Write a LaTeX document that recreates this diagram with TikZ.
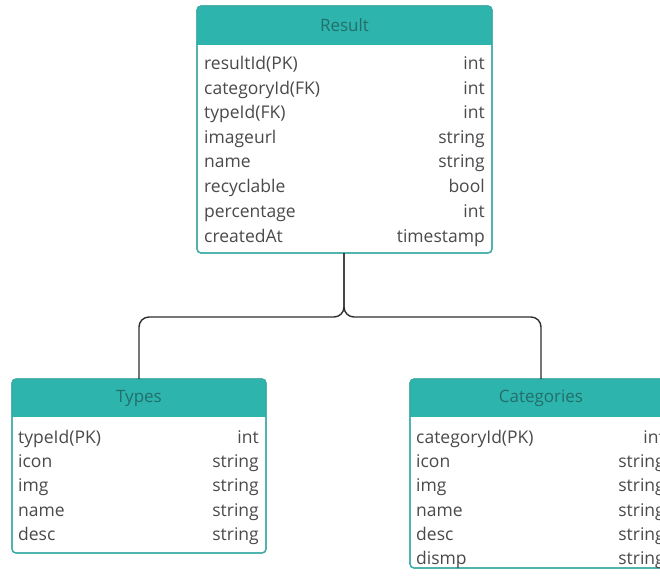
\documentclass[tikz,border=0pt]{standalone}
\usepackage{fontspec}
\setmainfont{Open Sans}
\definecolor{headfill}{HTML}{2DB4AD}
\definecolor{headtext}{HTML}{236F6B}
\definecolor{frame}{HTML}{3AAAA4}
\definecolor{bodytext}{HTML}{4A4A4A}
\definecolor{wire}{HTML}{2E2E2E}
\tikzset{
  x=1pt, y=-1pt,
  tablebody/.style={draw=frame, line width=1.2pt, fill=white, rounded corners=4pt},
  title/.style={font=\fontsize{17}{19}\selectfont, text=headtext, anchor=center, inner sep=0pt},
  field/.style={font=\fontsize{17.5}{20}\selectfont, text=bodytext, anchor=west, inner sep=0pt},
  ftype/.style={font=\fontsize{17.5}{20}\selectfont, text=bodytext, anchor=east, inner sep=0pt},
  link/.style={draw=wire, line width=1.4pt, rounded corners=10pt},
}
% #1 name, #2 left, #3 top, #4 right, #5 header bottom, #6 bottom, #7 title
\newcommand{\erdtable}[7]{%
  \path[tablebody] (#2,#3) rectangle (#4,#6);
  \begin{scope}
    \clip[rounded corners=4pt] (#2,#3) rectangle (#4,#6);
    \fill[headfill] (#2,#3) rectangle (#4,#5);
  \end{scope}
  \draw[frame, line width=1.2pt, rounded corners=4pt] (#2,#3) rectangle (#4,#6);
  \coordinate (#1-n) at ({(#2+#4)/2},#3);
  \coordinate (#1-s) at ({(#2+#4)/2},#6);
  \node[title] (#1-title) at ({(#2+#4)/2},{(#3+#5)/2}) {#7};
}
% #1 node name, #2 left x, #3 right x, #4 y, #5 field, #6 type
\newcommand{\erdrow}[6]{%
  \node[field] (#1) at (#2,#4) {\strut #5};
  \node[ftype] (#1-t) at (#3,#4) {\strut #6};
}
\begin{document}
\begin{tikzpicture}
\useasboundingbox (0,0) rectangle (660,576);
\clip (0,0) rectangle (660,576);

% Result table
\erdtable{res}{197}{6}{492}{45}{253}{Result}
\erdrow{r1}{204}{485}{65}{resultId(PK)}{int}
\erdrow{r2}{204}{485}{90}{categoryId(FK)}{int}
\erdrow{r3}{204}{485}{114}{typeId(FK)}{int}
\erdrow{r4}{204}{485}{139}{imageurl}{string}
\erdrow{r5}{204}{485}{163}{name}{string}
\erdrow{r6}{204}{485}{188}{recyclable}{bool}
\erdrow{r7}{204}{485}{213}{percentage}{int}
\erdrow{r8}{204}{485}{238}{createdAt}{timestamp}

% Types table
\erdtable{typ}{12}{379}{266}{417}{553}{Types}
\erdrow{t1}{18}{259}{439}{typeId(PK)}{int}
\erdrow{t2}{18}{259}{463}{icon}{string}
\erdrow{t3}{18}{259}{487}{img}{string}
\erdrow{t4}{18}{259}{512}{name}{string}
\erdrow{t5}{18}{259}{536}{desc}{string}

% Categories table
\erdtable{cat}{410}{379}{672}{417}{568}{Categories}
\erdrow{c1}{416}{665}{439}{categoryId(PK)}{int}
\erdrow{c2}{416}{665}{463}{icon}{string}
\erdrow{c3}{416}{665}{487}{img}{string}
\erdrow{c4}{416}{665}{512}{name}{string}
\erdrow{c5}{416}{665}{536}{desc}{string}
\erdrow{c6}{416}{665}{560}{dismp}{string}

% Relationship connectors
\coordinate (split) at (344,317);
\draw[link] (res-s -| split) -- (split) -| (typ-n);
\draw[link] (res-s -| split) -- (split) -| (cat-n);
\end{tikzpicture}
\end{document}
